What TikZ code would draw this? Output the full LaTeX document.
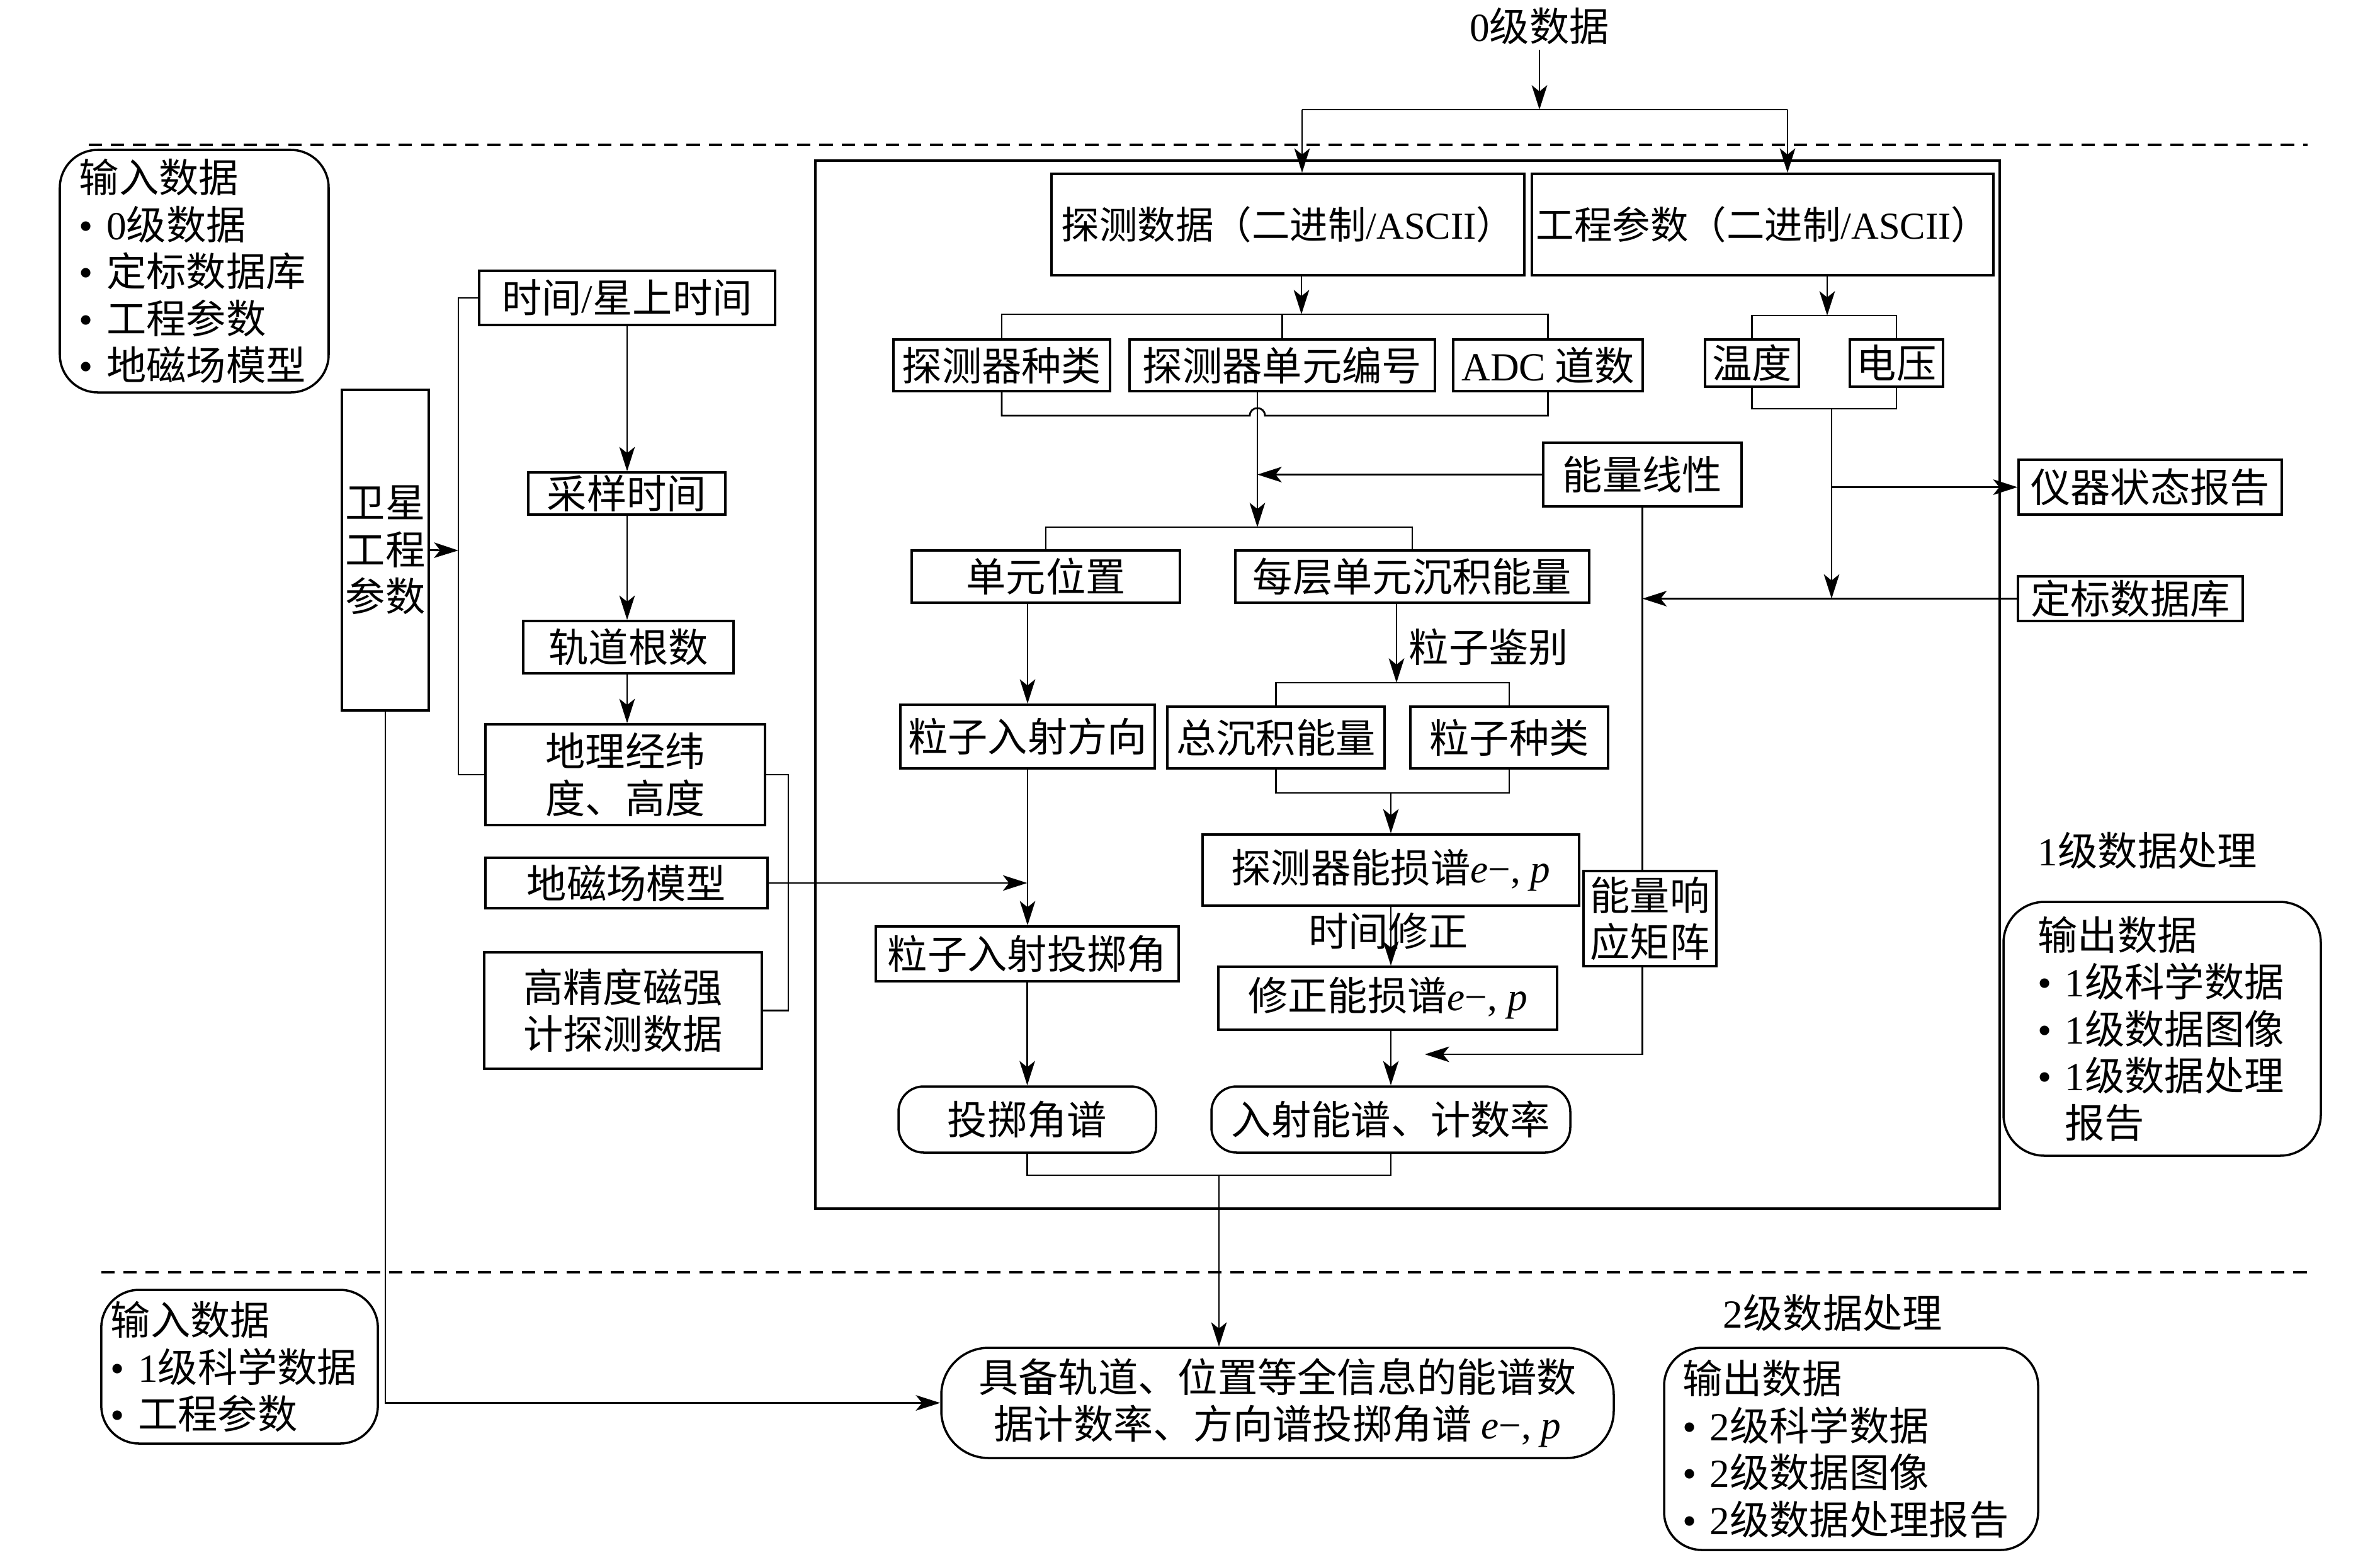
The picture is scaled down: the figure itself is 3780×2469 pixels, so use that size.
\documentclass[tikz,border=0pt]{standalone}
\usepackage{fontspec}
\setmainfont{Liberation Serif}
\newfontfamily\cjk{Noto Sans CJK SC}
\usetikzlibrary{arrows.meta}
\newcommand\la[1]{{\rmfamily #1}}
\newcommand\epm{\la{\textit{e}−, \textit{p}}}
\newcommand\bx[7][]{\node[box,#1,minimum width={(#5-#3)*0.01cm},minimum height={(#6-#4)*0.01cm}] (#2) at ({(#3+#5)/2},{(#4+#6)/2}) {#7};}
\begin{document}
\begin{tikzpicture}[x=0.01cm,y=-0.01cm,
  every node/.style={font=\cjk\fontsize{18}{21.2}\selectfont},
  box/.style={draw,line width=1pt,inner sep=0pt,align=center},
  rbox/.style={box,rounded corners=#1},
  small/.style={font=\cjk\fontsize{17.2}{21}\selectfont},
  conn/.style={line width=0.8pt},
  arr/.style={conn,-{Stealth[length=11pt,width=7pt,inset=2.8pt]}},
  lbl/.style={inner sep=2pt},
  dash line/.style={line width=1.3pt,dash pattern=on 6pt off 4pt}]
\useasboundingbox (0,0) rectangle (3780,2469);

% dashed separators
\coordinate (d1a) at (141,230); \coordinate (d1b) at (3665,230);
\coordinate (d2a) at (161,2020); \coordinate (d2b) at (3665,2020);
\draw[dash line] (d1a) -- (d1b);
\draw[dash line] (d2a) -- (d2b);

% frame of level-1 processing
\bx[line width=1.4pt]{frame}{1295}{255}{3176}{1919}{}

% labels
\node[lbl] (l0) at (2445,42) {\la{0}级数据};
\node[lbl,anchor=west] (ljb) at (2230,1027) {粒子鉴别};
\node[lbl] (lsj) at (2205,1478) {时间修正};
\node[lbl] (lv1) at (3411,1350) {\la{1}级数据处理};
\node[lbl] (lv2) at (2911,2084) {\la{2}级数据处理};

% main boxes
\bx[small]{det}{1670}{276}{2421}{437}{探测数据（二进制\la{/ASCII}）}
\bx[small]{eng}{2433}{276}{3166}{437}{工程参数（二进制\la{/ASCII}）}
\bx{kind}{1419}{539}{1763}{621}{探测器种类}
\bx{unit}{1794}{539}{2279}{621}{探测器单元编号}
\bx{adc}{2308}{539}{2609}{621}{\la{ADC} 道数}
\bx{temp}{2708}{539}{2857}{614}{温度}
\bx{volt}{2938}{539}{3086}{614}{电压}
\bx{lin}{2451}{703}{2766}{804}{能量线性}
\bx{upos}{1448}{874}{1874}{957}{单元位置}
\bx{edep}{1962}{874}{2524}{957}{每层单元沉积能量}
\bx{pdir}{1430}{1119}{1834}{1220}{粒子入射方向}
\bx{etot}{1854}{1122}{2199}{1220}{总沉积能量}
\bx{ptype}{2240}{1122}{2554}{1220}{粒子种类}
\bx{dspec}{1910}{1325}{2508}{1438}{探测器能损谱\epm}
\bx{resp}{2515}{1383}{2726}{1534}{能量响\\应矩阵}
\bx{pang}{1391}{1471}{1872}{1558}{粒子入射投掷角}
\bx{cspec}{1935}{1535}{2473}{1635}{修正能损谱\epm}
\bx[rbox=0.4cm]{aspec}{1427}{1725}{1836}{1830}{投掷角谱}
\bx[rbox=0.4cm]{ispec}{1924}{1725}{2494}{1830}{入射能谱、计数率}
\bx[rbox=0.75cm]{final}{1495}{2140}{2563}{2315}{具备轨道、位置等全信息的能谱数\\据计数率、方向谱投掷角谱 \epm}
\bx{report}{3206}{730}{3624}{817}{仪器状态报告}
\bx{calib}{3205}{915}{3562}{986}{定标数据库}

% input / output boxes
\bx[rbox=0.65cm,align=left,text width=3.95cm,inner xsep=0.52cm]{out1}{3182}{1432}{3686}{1835}{输出数据\\\la{• 1}级科学数据\\\la{• 1}级数据图像\\\la{• 1}级数据处理\\\phantom{\la{• }}报告}
\bx[rbox=0.6cm,align=left,text width=5.35cm,inner xsep=0.27cm]{out2}{2643}{2140}{3237}{2461}{输出数据\\\la{• 2}级科学数据\\\la{• 2}级数据图像\\\la{• 2}级数据处理报告}
\bx[rbox=0.6cm,align=left,text width=3.65cm,inner xsep=0.29cm]{in1}{95}{238}{522}{623}{输入数据\\\la{• 0}级数据\\\la{• }定标数据库\\\la{• }工程参数\\\la{• }地磁场模型}
\bx[rbox=0.6cm,align=left,text width=4.09cm,inner xsep=0.15cm]{in2}{161}{2048}{600}{2292}{输入数据\\\mbox{\la{• 1}级科学数据}\\\la{• }工程参数}

% left column
\bx{sat}{543}{619}{681}{1128}{卫星\\工程\\参数}
\bx{time}{761}{430}{1231}{516}{时间\la{/}星上时间}
\bx{samp}{839}{750}{1152}{817}{采样时间}
\bx{orb}{831}{986}{1165}{1069}{轨道根数}
\bx{geo}{771}{1150}{1215}{1310}{地理经纬\\度、高度}
\bx{mag}{771}{1362}{1219}{1442}{地磁场模型}
\bx{magd}{769}{1512}{1210}{1697}{高精度磁强\\计探测数据}

% ---- connectors ----
\coordinate (s0) at (2445,174);
\coordinate (sL) at (2068,174);
\coordinate (sR) at (2839,174);
\draw[arr] (l0.south) -- (s0);
\draw[conn] (sL) -- (sR);
\draw[arr] (sL) -- (sL |- det.north);
\draw[arr] (sR) -- (sR |- eng.north);

% detector data split
\coordinate (b2) at (2067,499);
\draw[arr] (det.south -| b2) -- (b2);
\draw[conn] (kind.north) |- (b2) -| (adc.north);
\draw[conn] (unit.north) -- (unit.north |- b2);

% merge with hop
\coordinate (bU) at (1997,837);
\coordinate (hopL) at (1985,660);
\coordinate (hopR) at (2009,660);
\draw[conn] (kind.south) |- (hopL) .. controls (1985,644) and (2009,644) .. (hopR) -| (adc.south);
\draw[arr] (unit.south -| bU) -- (bU);
\draw[arr] (lin.west) -- (lin.west -| bU);
\draw[conn] (upos.north) |- (bU) -| (edep.north);

% left branch inside frame
\draw[arr] (upos.south -| pdir.north) -- (pdir.north);
\draw[arr] (pdir.south) -- (pdir.south |- pang.north);
\draw[arr] (pang.south) -- (pang.south |- aspec.north);

% energy branch
\coordinate (bE) at (2218,1084);
\draw[arr] (edep.south -| bE) -- (bE);
\draw[conn] (etot.north) |- (bE) -| (ptype.north);
\coordinate (bT) at (2209,1259);
\draw[conn] (etot.south) |- (bT) -| (ptype.south);
\draw[arr] (bT) -- (bT |- dspec.north);
\draw[arr] (dspec.south) -- (dspec.south |- cspec.north);
\draw[arr] (ispec.north |- cspec.south) -- (ispec.north);

% energy linearity / response
\coordinate (rT) at (2263,1674);
\draw[conn] (lin.south) -- (lin.south |- resp.north);
\draw[arr] (resp.south -| lin.south) |- (rT);

% engineering params
\coordinate (bV) at (2902,501);
\coordinate (bW) at (2909,649);
\draw[arr] (eng.south -| bV) -- (bV);
\draw[conn] (temp.north) |- (bV) -| (volt.north);
\draw[conn] (temp.south) |- (bW) -| (volt.south);
\draw[arr] (bW) -- (bW |- calib.west);
\draw[arr] (bW |- report.west) -- (report.west);
\draw[arr] (calib.west) -- (calib.west -| lin.south);

% outputs merge
\coordinate (mB) at (1936,1866);
\draw[conn] (aspec.south) |- (mB) -| (ispec.south);
\draw[arr] (mB) -- (mB |- final.north);

% left column connectors
\coordinate (vL) at (728,874);
\coordinate (vR) at (1252,1230);
\draw[arr] (sat.east) -- (vL);
\draw[conn] (time.west) -| (vL) |- (geo.west);
\draw[arr] (time.south) -- (time.south |- samp.north);
\draw[arr] (samp.south -| time.south) -- (time.south |- orb.north);
\draw[arr] (orb.south -| time.south) -- (time.south |- geo.north);
\draw[conn] (geo.east) -| (vR |- magd.east) -- (magd.east);
\draw[arr] (mag.east) -- (mag.east -| pang.north);
\draw[arr] (sat.south) |- (final.west);
\end{tikzpicture}
\end{document}
